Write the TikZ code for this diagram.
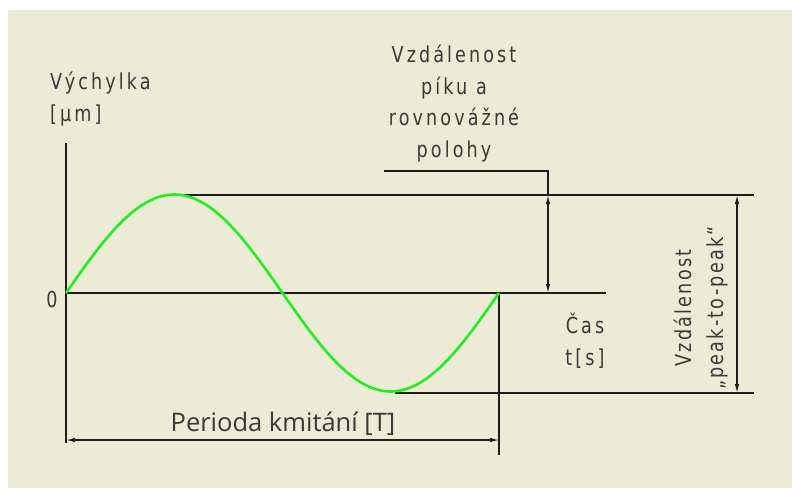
\documentclass[tikz,border=0pt]{standalone}
\usepackage{fontspec}
\setmainfont{DejaVu Sans}
\newfontfamily\techfont[FakeStretch=0.8,LetterSpace=14]{DejaVu Sans}
\newfontfamily\techfontb[FakeStretch=0.8,LetterSpace=10]{DejaVu Sans}
\newfontfamily\perfont{Open Sans}
\usetikzlibrary{arrows.meta}
\definecolor{bg}{HTML}{ECEBD6}
\definecolor{curve}{HTML}{22EE22}
\definecolor{ink}{HTML}{1E1E1E}
\definecolor{txt}{HTML}{3A3A3A}
\begin{document}
\begin{tikzpicture}[x=1pt,y=-1pt,
  line/.style={draw=ink,line width=1.3pt},
  dim/.style={line,{Latex[length=9pt,width=4.5pt]}-{Latex[length=9pt,width=4.5pt]}},
  lab/.style={text=txt,inner sep=0pt,font=\techfont\fontsize{22}{31.5}\selectfont},
  labr/.style={text=txt,inner sep=0pt,font=\techfontb\fontsize{22}{32}\selectfont},
  per/.style={text=txt,inner sep=0pt,font=\perfont\fontsize{25.5}{28}\selectfont},
  wave/.style={draw=curve,line width=2.6pt}
]
\fill[white] (0,0) rectangle (792,488);
\fill[bg] (8,10) rectangle (792,488);
\useasboundingbox (0,0) rectangle (792,488);

% coordinates
\coordinate (ytop) at (66,143);
\coordinate (ybot) at (66,443);
\coordinate (o) at (66,293);
\coordinate (xend) at (606,293);
\coordinate (peak) at (177,195);
\coordinate (peakR) at (754,195);
\coordinate (trough) at (395,393);
\coordinate (troughR) at (754,393);
\coordinate (tend) at (499,293);
\coordinate (tendB) at (499,455);
\coordinate (pL) at (66,440);
\coordinate (pR) at (499,440);
\coordinate (aT) at (548,195);
\coordinate (aB) at (548,293);
\coordinate (aL) at (548,171);
\coordinate (aLL) at (384,171);
\coordinate (ppT) at (737,195);
\coordinate (ppB) at (737,393);

% labels (base = baseline of last line)
\node[lab,anchor=base west,align=left] (vych) at (50,121) {Výchylka\\{[}μm{]}};
\node[lab,anchor=base,align=center] (vzd) at (454,157) {Vzdálenost\\píku a\\rovnovážné\\polohy};
\node[lab,anchor=base] (zero) at (52,307) {0};
\node[lab,anchor=base,align=center] (cas) at (585,365) {Čas\\t{[}s{]}};
\node[per,anchor=base] (per) at (283,431) {Perioda kmitání [T]};
\node[labr,rotate=90,align=center] (p2p) at (701,308) {Vzdálenost\\„peak-to-peak“};

% axes and extension lines
\draw[line] (ytop) -- (ybot);
\draw[line] (o) -- (xend);
\draw[line] (peak) -- (peakR);
\draw[line] (trough) -- (troughR);
\draw[line] (tend) -- (tendB);

% dimensions
\draw[dim] (pL) -- (pR);
\draw[dim] (aT) -- (aB);
\draw[line] (aT) -- (aL) -- (aLL);
\draw[dim] (ppT) -- (ppB);

% sine wave
\draw[wave] plot[domain=0:360,samples=120,smooth] ({66+1.20278*\x},{293-98.5*sin(\x)});
\end{tikzpicture}
\end{document}
